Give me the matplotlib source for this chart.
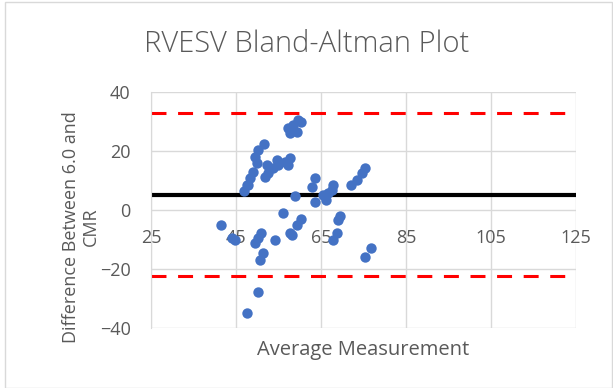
import matplotlib.pyplot as plt
from matplotlib.patches import Rectangle

# average of the two methods (x) and their difference (y)
avg = [41.3, 44.6, 44.0, 47.4, 50.1, 50.5, 51.3, 49.4, 50.9, 50.1,
       54.1, 55.9, 57.6, 59.2, 60.3, 58.0, 46.8, 47.4, 48.2, 49.0,
       49.8, 49.4, 50.1, 51.5, 52.1, 52.5, 51.7, 53.7, 54.5, 54.8,
       56.4, 57.6, 57.2, 57.2, 57.6, 58.4, 59.2, 59.5, 60.3, 58.8,
       62.7, 63.5, 63.5, 65.4, 66.2, 66.6, 67.4, 67.8, 69.4, 69.0,
       68.6, 67.8, 72.1, 73.3, 74.5, 75.2, 75.2, 76.8, 47.8]
diff = [-5.2, -10.3, -9.5, -35.1, -27.8, -17.0, -14.8, -11.4, -8.0, -9.7,
        -10.3, -1.1, -8.0, -5.2, -3.3, -8.6, 6.3, 8.4, 10.6, 12.9,
        15.7, 18.0, 20.2, 22.2, 15.2, 12.3, 11.2, 14.0, 16.8, 15.2,
        16.3, 17.6, 15.2, 27.6, 25.9, 28.7, 26.4, 30.4, 29.8, 4.5,
        7.8, 10.6, 2.7, 5.0, 3.3, 5.6, 6.7, 8.4, -2.0, -3.5,
        -8.0, -10.3, 8.4, 10.1, 12.3, 14.0, -15.9, -13.1, 8.4]

mean_diff = 5.05
upper_loa = 32.7
lower_loa = -22.6

xticks = [25, 45, 65, 85, 105, 125]
yticks = [-40, -20, 0, 20, 40]

plt.rcParams['font.family'] = ['Open Sans', 'DejaVu Sans']
grey = '#595959'

fig = plt.figure(figsize=(6.13, 3.88), dpi=100)
fig.patches.append(Rectangle((0.008, 0.0), 0.99, 0.995, transform=fig.transFigure,
                             fill=False, edgecolor='#d9d9d9', lw=1))
ax = fig.add_axes([0.247, 0.1554, 0.693, 0.6083])

ax.set_xlim(25, 125)
ax.set_ylim(-40, 40)
ax.set_xticks(xticks)
ax.set_yticks(yticks)
ax.grid(True, color='#d9d9d9', lw=1)
ax.set_axisbelow(True)

for s in ['top', 'right', 'bottom']:
    ax.spines[s].set_visible(False)
ax.spines['left'].set_color('#d9d9d9')
ax.spines['bottom'].set_position(('data', 0))
ax.tick_params(axis='both', length=0, colors=grey, labelsize=13)
ax.tick_params(axis='x', pad=14)
ax.tick_params(axis='y', pad=15)

ax.axhline(upper_loa, color='#ff0000', lw=2.2, dashes=(4.9, 3.8), zorder=2)
ax.axhline(lower_loa, color='#ff0000', lw=2.2, dashes=(4.9, 3.8), zorder=2)
ax.axhline(mean_diff, color='black', lw=3, zorder=2)

ax.scatter(avg, diff, s=56, color='#4472c4', zorder=3, linewidths=0)

fig.text(0.5, 0.885, 'RVESV Bland-Altman Plot', ha='center', va='center',
         fontsize=21, color=grey, fontweight='light')
fig.text(0.593, 0.098, 'Average Measurement', ha='center', va='center',
         fontsize=14.5, color=grey)
fig.text(0.132, 0.415, 'Difference Between 6.0 and\nCMR', ha='center', va='center',
         rotation=90, fontsize=13, color=grey, multialignment='center',
         linespacing=1.1)

fig.savefig('out.png', dpi=100)
